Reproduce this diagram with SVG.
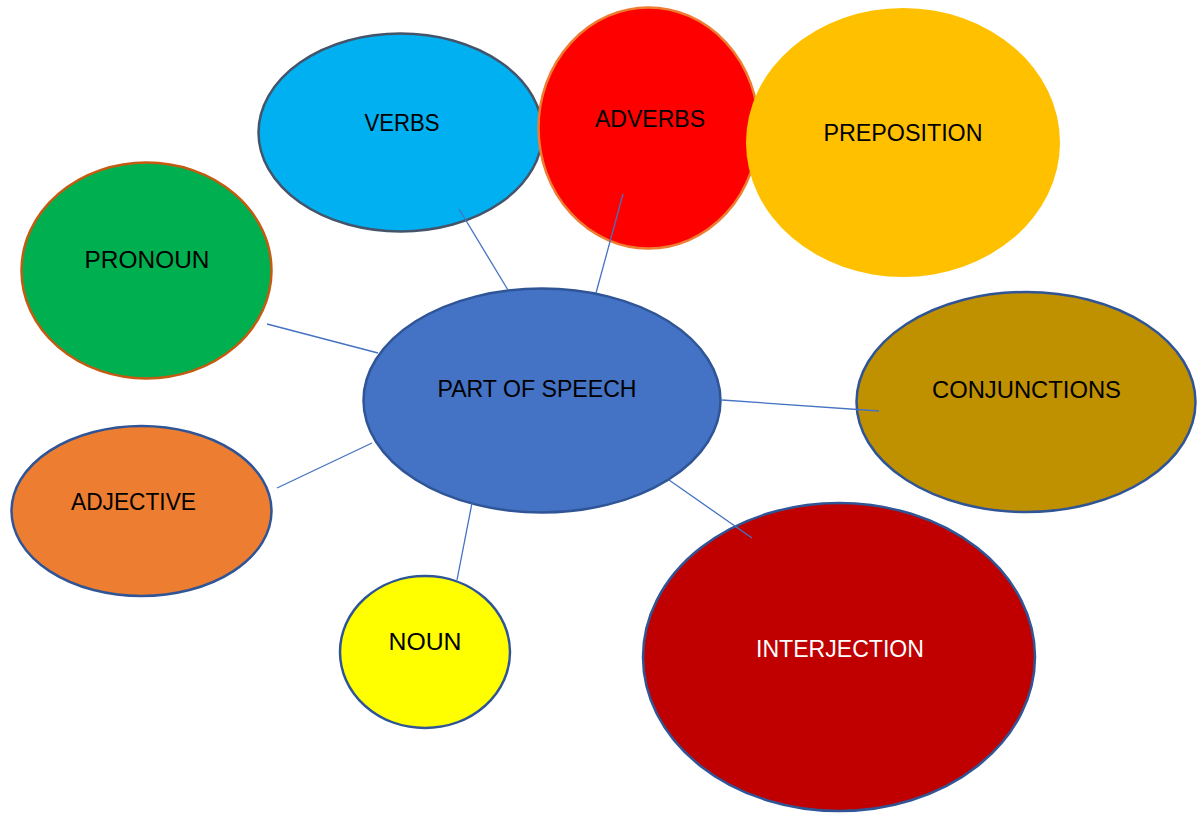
<svg xmlns="http://www.w3.org/2000/svg" width="1202" height="813" viewBox="0 0 1202 813">
<style>
.lbl{font-family:"Liberation Sans","Open Sans",Arial,sans-serif;font-size:24px;fill:#000;text-anchor:middle}
.w{fill:#fff}
.conn line{stroke:#4472C4;stroke-width:1.3}
.bs{stroke:#2F5597;stroke-width:2.5}
</style>
<rect width="1202" height="813" fill="#fff"/>
<g id="verbs"><ellipse cx="400.5" cy="132.5" rx="142" ry="99" fill="#00B0F0" stroke="#44546A" stroke-width="2.5"/><text class="lbl" x="402" y="131" textLength="75" lengthAdjust="spacingAndGlyphs">VERBS</text></g>
<g id="adverbs"><ellipse cx="648.5" cy="128" rx="110" ry="120.5" fill="#FF0000" stroke="#ED7D31" stroke-width="2.5"/><text class="lbl" x="650" y="127" textLength="110" lengthAdjust="spacingAndGlyphs">ADVERBS</text></g>
<g id="preposition"><ellipse cx="903" cy="142.5" rx="157" ry="134.5" fill="#FFC000"/><text class="lbl" x="903" y="141" textLength="159" lengthAdjust="spacingAndGlyphs">PREPOSITION</text></g>
<g id="pronoun"><ellipse cx="146.5" cy="270.5" rx="125" ry="108" fill="#00B050" stroke="#C55A11" stroke-width="2.5"/><text class="lbl" x="147" y="268" textLength="125" lengthAdjust="spacingAndGlyphs">PRONOUN</text></g>
<g id="adjective"><ellipse cx="141.5" cy="511" rx="130" ry="85" fill="#ED7D31" class="bs"/><text class="lbl" x="133.5" y="510" textLength="125" lengthAdjust="spacingAndGlyphs">ADJECTIVE</text></g>
<g id="part-of-speech"><ellipse cx="542" cy="400.5" rx="178.5" ry="112" fill="#4472C4" class="bs"/><text class="lbl" x="537" y="397" textLength="199" lengthAdjust="spacingAndGlyphs">PART OF SPEECH</text></g>
<g id="conjunctions"><ellipse cx="1026" cy="402" rx="169.5" ry="110" fill="#BF9000" class="bs"/><text class="lbl" x="1026.5" y="398" textLength="189" lengthAdjust="spacingAndGlyphs">CONJUNCTIONS</text></g>
<g id="noun"><ellipse cx="425" cy="652" rx="85" ry="76" fill="#FFFF00" class="bs"/><text class="lbl" x="425" y="650" textLength="73" lengthAdjust="spacingAndGlyphs">NOUN</text></g>
<g id="interjection"><ellipse cx="839" cy="657" rx="196" ry="154" fill="#C00000" class="bs"/><text class="lbl w" x="840" y="657" textLength="168" lengthAdjust="spacingAndGlyphs">INTERJECTION</text></g>
<g id="connectors" class="conn">
<line x1="459" y1="209" x2="508" y2="290"/>
<line x1="623" y1="194" x2="596" y2="293"/>
<line x1="267" y1="324" x2="378" y2="353"/>
<line x1="277" y1="488" x2="372" y2="443"/>
<line x1="722" y1="400" x2="879" y2="411"/>
<line x1="669" y1="480" x2="752" y2="538"/>
<line x1="472" y1="503" x2="457" y2="580"/>
</g>
</svg>
